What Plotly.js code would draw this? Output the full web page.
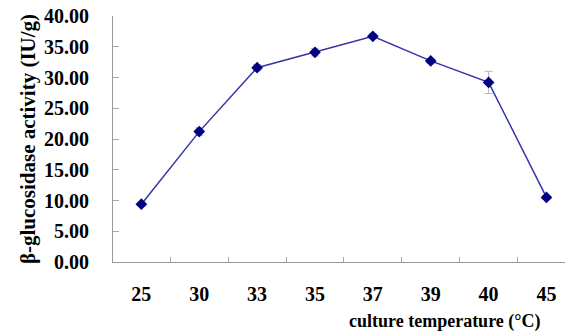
<!DOCTYPE html>
<html>
<head>
<meta charset="utf-8">
<script src="https://cdn.plot.ly/plotly-3.0.1.min.js"></script>
<style>
  html, body { margin: 0; padding: 0; background: #fff; }
  #chart { width: 565px; height: 335px; }
</style>
</head>
<body>
<div id="chart"></div>
<script>
// Culture temperature (°C) and measured β-glucosidase activity (IU/g)
const temperatures = ['25', '30', '33', '35', '37', '39', '40', '45'];
const activity = [9.4, 21.2, 31.6, 34.1, 36.7, 32.7, 29.2, 10.5];
const activityError = [0.3, 0.6, 0.5, 0.6, 0.4, 0.4, 1.8, 0.3];
const yTickValues = [0, 5, 10, 15, 20, 25, 30, 35, 40];

const serif = 'Liberation Serif, Times New Roman, serif';

const trace = {
  type: 'scatter',
  mode: 'lines+markers',
  x: temperatures,
  y: activity,
  line: { color: '#3535a8', width: 1.5 },
  marker: { symbol: 'diamond', size: 9, color: '#000080' },
  error_y: {
    type: 'data',
    array: activityError,
    visible: true,
    color: '#b8b8b8',
    thickness: 1,
    width: 4
  },
  cliponaxis: false,
  hoverinfo: 'x+y'
};

const layout = {
  width: 565,
  height: 335,
  margin: { l: 113, r: 0, t: 16, b: 73 },
  paper_bgcolor: '#ffffff',
  plot_bgcolor: '#ffffff',
  showlegend: false,
  font: { family: serif, color: '#000000' },
  xaxis: {
    type: 'category',
    range: [-0.49, 7.32],
    tickson: 'boundaries',
    ticks: 'inside',
    ticklen: 5,
    tickcolor: '#a8a8a8',
    showline: true,
    linecolor: '#9a9a9a',
    linewidth: 1,
    showgrid: false,
    zeroline: false,
    tickfont: { family: serif, size: 20, color: '#000000', weight: 'bold' },
    ticklabelstandoff: 14
  },
  yaxis: {
    range: [0, 40],
    tickvals: yTickValues,
    ticktext: yTickValues.map(v => v.toFixed(2)),
    ticks: 'inside',
    ticklen: 6,
    tickcolor: '#a8a8a8',
    showline: true,
    linecolor: '#9a9a9a',
    linewidth: 1,
    showgrid: false,
    zeroline: false,
    tickfont: { family: serif, size: 20, color: '#000000', weight: 'bold' },
    ticklabelstandoff: 19,
    title: {
      text: '<b>β-glucosidase activity (IU/g)</b>',
      font: { family: serif, size: 21, color: '#000000' },
      standoff: 2
    }
  },
  // x-axis title sits right of centre, under the last few categories
  annotations: [{
    text: '<b>culture temperature (°C)</b>',
    xref: 'paper',
    yref: 'paper',
    x: (444 - 113) / 452,
    y: -(321 - 262) / 246,
    xanchor: 'center',
    yanchor: 'middle',
    showarrow: false,
    font: { family: serif, size: 18, color: '#000000' }
  }]
};

Plotly.newPlot('chart', [trace], layout, { displayModeBar: false, staticPlot: true });
</script>
</body>
</html>
